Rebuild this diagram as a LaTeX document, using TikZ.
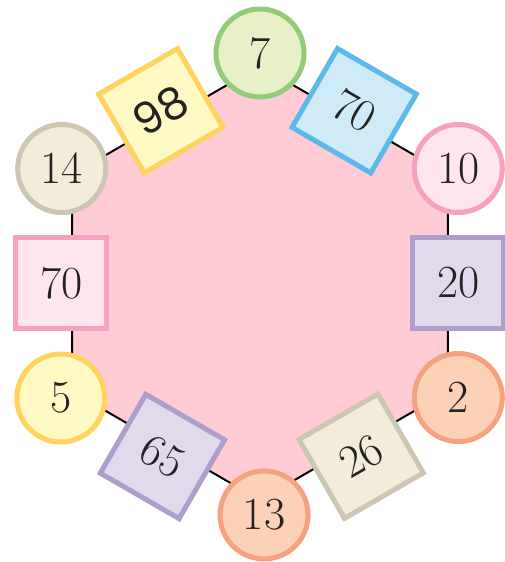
\documentclass[tikz,border=0pt]{standalone}
\usepackage{fontspec}
\usetikzlibrary{positioning, calc, backgrounds}
\newfontfamily\geofont{Poppins}
\definecolor{hexpk}{HTML}{FFCCD6}
\definecolor{grnF}{HTML}{E7F0C6}
\definecolor{grnD}{HTML}{93CB79}
\definecolor{ylwF}{HTML}{FFF9C4}
\definecolor{ylwD}{HTML}{FFD35E}
\definecolor{bluF}{HTML}{CFEBF8}
\definecolor{bluD}{HTML}{5DB9E9}
\definecolor{pnkF}{HTML}{FFE5EE}
\definecolor{pnkD}{HTML}{F7A1BF}
\definecolor{vioF}{HTML}{E1D9EC}
\definecolor{vioD}{HTML}{AD9ECC}
\definecolor{orgF}{HTML}{FDD1B5}
\definecolor{orgD}{HTML}{F6A17F}
\definecolor{bgeF}{HTML}{F4ECDB}
\definecolor{bgeD}{HTML}{CBC7B2}
\definecolor{txt}{HTML}{222222}
\tikzset{
  num/.style    = {line width=5pt, text=txt, inner sep=0pt,
                   font=\fontsize{46}{46}\selectfont},
  rnd/.style    = {num, circle, draw=#1D, fill=#1F, minimum size=88pt},
  sqr/.style    = {num, rectangle, draw=#1D, fill=#1F, minimum size=91pt},
  hexbody/.style= {line width=2pt, draw=black, fill=hexpk},
}

\begin{document}
\begin{tikzpicture}[x=1pt, y=1pt]

  \useasboundingbox (-260,-279) rectangle (245,283);

  % pink hexagon
  \filldraw[hexbody] (90:217) -- (30:217) -- (-30:217) -- (-90:217)
    -- (-150:217) -- (150:217) -- cycle;

  % corners
  \node[rnd=grn] (c7)  at (90:230)   {7};
  \node[rnd=pnk] (c10) at (30:229)   {10};
  \node[rnd=org] (c2)  at (-30:229)  {2};
  \node[rnd=org] (c13) at (-89:232)  {13};
  \node[rnd=ylw] (c5)  at (-150:230) {5};
  \node[rnd=bge] (c14) at (150:229)  {14};

  % sides
  \node[sqr=ylw, rotate=30]  (s98)  at ($(c14)!0.5!(c7)$)  {\geofont\fontsize{44}{44}\selectfont 98};
  \node[sqr=blu, rotate=-30] (s70r) at ($(c7)!0.5!(c10)+(-5,0)$) {70};
  \node[sqr=vio]             (s20)  at ($(c10)!0.5!(c2)$)  {20};
  \node[sqr=bge, rotate=30]  (s26)  at ($(c13)!0.5!(c2)$)  {26};
  \node[sqr=vio, rotate=-30] (s65)  at ($(c5)!0.5!(c13)$)  {65};
  \node[sqr=pnk]             (s70l) at ($(c14)!0.5!(c5)$)  {70};

\end{tikzpicture}
\end{document}
